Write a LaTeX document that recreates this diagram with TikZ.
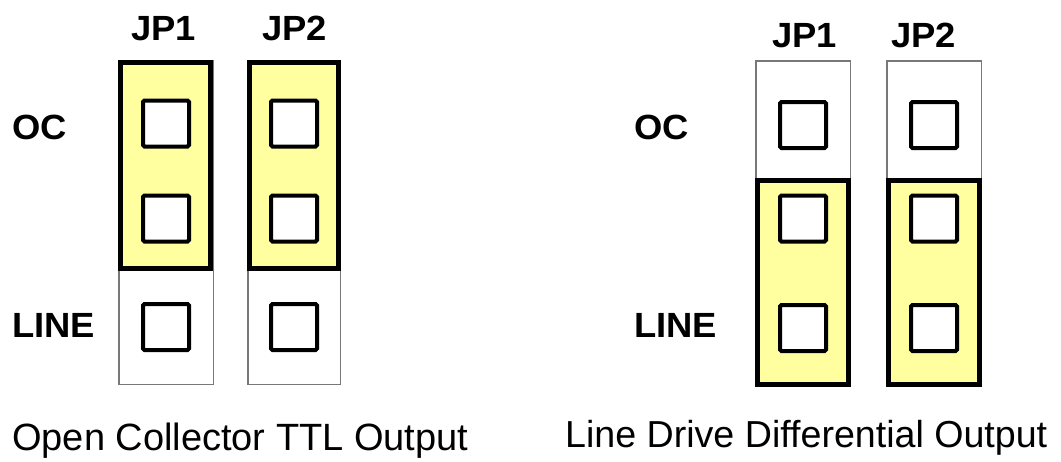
\documentclass[tikz,border=0pt]{standalone}
\usepackage{fontspec}
\usepackage{graphicx}
\setmainfont{Liberation Sans}
\definecolor{jumper}{RGB}{255,255,160}
\definecolor{pinframe}{RGB}{120,120,120}
\newcommand\widelabel[1]{\scalebox{1.04}[1]{#1}}
\begin{document}
\begin{tikzpicture}[x=1pt,y=-1pt,
  whitebox/.style={draw=pinframe,line width=1.5pt,fill=white,inner sep=0pt,outer sep=0pt},
  jumperbox/.style={draw=black,line width=5pt,fill=jumper,inner sep=0pt,outer sep=0pt},
  pinbox/.style={draw=black,line width=4pt,fill=white,rounded corners=1.5pt,minimum width=46pt,minimum height=46pt,inner sep=0pt,outer sep=0pt},
  boldlabel/.style={inner sep=0pt,anchor=base west,font=\fontsize{35}{42}\selectfont\bfseries},
  caption/.style={inner sep=0pt,anchor=base west,font=\fontsize{38}{45}\selectfont}]
\useasboundingbox[fill=white] (0,0) rectangle (1061,461);
% ---------- left: open collector ----------
\node[whitebox,minimum width=94.5pt,minimum height=323.5pt] (lw1) at (166,222.5) {};
\node[whitebox,minimum width=92.5pt,minimum height=323.5pt] (lw2) at (294,222.5) {};
\node[jumperbox,minimum width=90pt,minimum height=206pt] (ly1) at (165.5,165.5) {};
\node[jumperbox,minimum width=89pt,minimum height=206pt] (ly2) at (294,165.5) {};
\node[pinbox] (la1) at (166,123.5) {};
\node[pinbox] (lb1) at (166,218.5) {};
\node[pinbox] (lc1) at (166,327) {};
\node[pinbox] (la2) at (294,123.5) {};
\node[pinbox] (lb2) at (294,218.5) {};
\node[pinbox] (lc2) at (294,327) {};
\node[boldlabel] (ljp1) at (131,40) {\widelabel{JP1}};
\node[boldlabel] (ljp2) at (262,40) {\widelabel{JP2}};
\node[boldlabel] (loc) at (12,139) {\widelabel{OC}};
\node[boldlabel] (lline) at (12,337) {\widelabel{LINE}};
\node[caption] (lcap) at (12,450) {Open Collector TTL Output};
% ---------- right: line drive ----------
\node[whitebox,minimum width=94.5pt,minimum height=325.5pt] (rw1) at (803,223.5) {};
\node[whitebox,minimum width=94.5pt,minimum height=325.5pt] (rw2) at (934,223.5) {};
\node[jumperbox,minimum width=91pt,minimum height=204pt] (ry1) at (803,282.5) {};
\node[jumperbox,minimum width=91pt,minimum height=204pt] (ry2) at (934,282.5) {};
\node[pinbox] (ra1) at (803,125) {};
\node[pinbox] (rb1) at (803,218.5) {};
\node[pinbox] (rc1) at (803,328) {};
\node[pinbox] (ra2) at (934,125) {};
\node[pinbox] (rb2) at (934,218.5) {};
\node[pinbox] (rc2) at (934,328) {};
\node[boldlabel] (rjp1) at (772,47) {\widelabel{JP1}};
\node[boldlabel] (rjp2) at (891,47) {\widelabel{JP2}};
\node[boldlabel] (roc) at (634,139) {\widelabel{OC}};
\node[boldlabel] (rline) at (634,337) {\widelabel{LINE}};
\node[caption,font=\fontsize{37.6}{45}\selectfont] (rcap) at (565,447) {Line Drive Differential Output};
\end{tikzpicture}
\end{document}
